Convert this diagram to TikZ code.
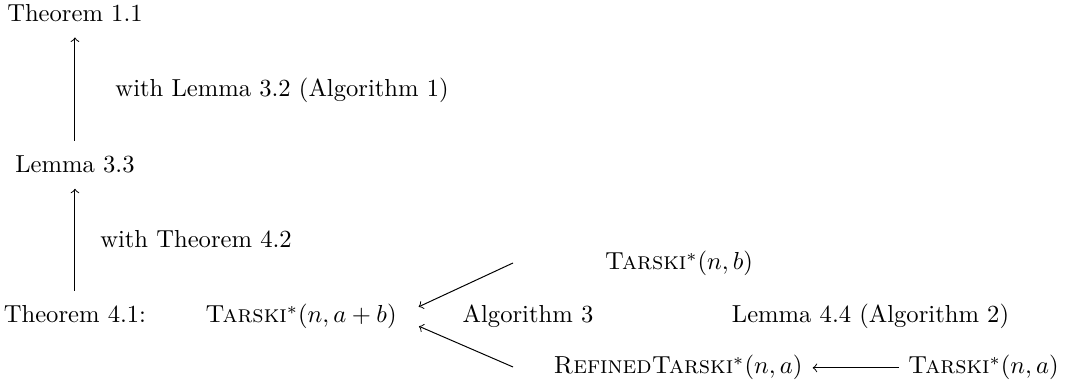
\documentclass[tikz,border=0pt]{standalone}
\usepackage{amssymb}
\usepackage{amsmath}
\usepackage{tikz}

\newcommand{\Tarski}{\textsc{Tarski}}
\newcommand{\RefTarski}{\textsc{RefinedTarski}}

\begin{document}
\begin{tikzpicture}[
    stmt/.style={inner sep=0pt, anchor=base},
    note/.style={inner sep=0pt, anchor=base},
    upstep/.style={->, shorten >=6pt, shorten <=6pt}
]
    \useasboundingbox (0,0) rectangle (15.229,5.514);

    \node[stmt] (thmone) at (1.071,5.2) {Theorem 1.1};
    \node[stmt] (lemthree) at (1.071,3.043) {Lemma 3.3};
    \node[stmt] (thmfour) at (1.071,0.9) {Theorem 4.1:};

    \node[note] (withlem) at (4.03,4.129) {with Lemma 3.2 (Algorithm 1)};
    \node[note] (withthm) at (2.8,1.971) {with Theorem 4.2};

    \node[stmt] (tab) at (4.3,0.9) {\Tarski$^*(n, a+b)$};
    \node[note] (algthree) at (7.543,0.9) {Algorithm 3};
    \node[stmt] (tb) at (9.7,1.657) {\Tarski$^*(n, b)$};
    \node[note] (lemfour) at (12.436,0.9) {Lemma 4.4 (Algorithm 2)};
    \node[stmt] (rta) at (9.686,0.171) {\RefTarski$^*(n, a)$};
    \node[stmt] (tna) at (14.05,0.171) {\Tarski$^*(n, a)$};

    \coordinate (uptail) at (7.329,1.757);
    \coordinate (dntail) at (7.329,0.271);

    \draw[upstep] (lemthree) -- (thmone);
    \draw[upstep] (thmfour) -- (lemthree);
    \draw[->, shorten >=9.7pt] (uptail) -- (tab.east);
    \draw[->, shorten >=9.7pt] (dntail) -- (tab.east);
    \draw[->, shorten <=3.5pt, shorten >=4pt] (tna) -- (rta);
\end{tikzpicture}
\end{document}
